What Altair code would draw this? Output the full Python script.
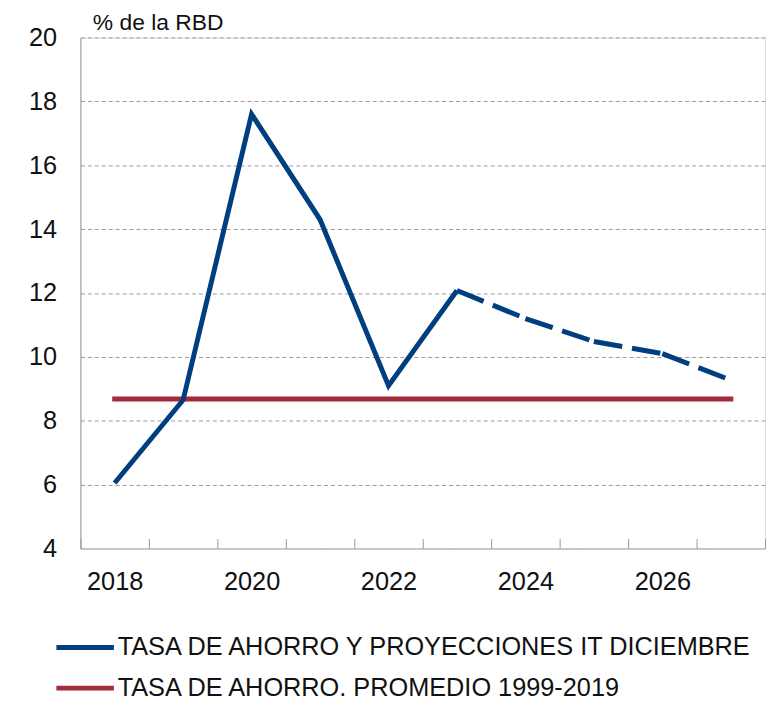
import altair as alt
import pandas as pd

# ---- data ----
years = [2018, 2019, 2020, 2021, 2022, 2023, 2024, 2025, 2026, 2027]
tasa = [6.05, 8.65, 17.6, 14.3, 9.1, 12.08, 11.2, 10.48, 10.1, 9.27]
promedio = [8.68, 8.68, 8.68, 8.68, 8.68, 8.68, 8.68, 8.68, 8.68, 8.68]
last_observed_year = 2023
serie_tasa = "TASA DE AHORRO Y PROYECCIONES IT DICIEMBRE"
serie_prom = "TASA DE AHORRO. PROMEDIO 1999-2019"
y_ticks = [4, 6, 8, 10, 12, 14, 16, 18, 20]
y_title = "% de la RBD"

BLUE = "#003F7F"
RED = "#A42B3B"
GRAY = "#9a9a9a"
FONT = "Liberation Sans"
FS = 25.5

# ---- tables ----
rows_hist = [{"year": y, "value": v, "serie": serie_tasa, "seg": "hist"}
             for y, v in zip(years, tasa) if y <= last_observed_year]
rows_proj = []
i0 = years.index(last_observed_year)
for i in range(i0, len(years) - 1):
    for j in (i, i + 1):
        rows_proj.append({"year": years[j], "value": tasa[j], "serie": serie_tasa, "seg": f"p{i}"})
rows_prom = [{"year": y, "value": v, "serie": serie_prom, "seg": "prom"}
             for y, v in zip(years, promedio)]

df_hist = pd.DataFrame(rows_hist)
df_proj = pd.DataFrame(rows_proj)
df_prom = pd.DataFrame(rows_prom)

color = alt.Color(
    "serie:N",
    scale=alt.Scale(domain=[serie_tasa, serie_prom], range=[BLUE, RED]),
    legend=alt.Legend(
        title=None, orient="none", legendX=-8, legendY=602, direction="vertical",
        symbolType="M-3.05,0H3.05", symbolSize=361, symbolStrokeWidth=5,
        symbolOffset=0, labelOffset=20, symbolDash=[1, 0],
        labelFontSize=FS, labelFont=FONT, labelColor="#111", labelLimit=900,
        rowPadding=14, padding=0,
    ),
)

x = alt.X(
    "year:O",
    scale=alt.Scale(type="band", paddingInner=0, paddingOuter=0),
    axis=alt.Axis(
        title=None, labelAngle=0, labelOverlap=False,
        labelExpr="datum.value % 2 == 0 ? datum.label : ''",
        tickBand="extent", tickSize=10, tickColor=GRAY, tickWidth=1,
        offset=-10, domain=False, labelPadding=21,
        labelFontSize=FS, labelFont=FONT, labelColor="#111",
    ),
)

y = alt.Y(
    "value:Q",
    scale=alt.Scale(domain=[4, 20], nice=False, zero=False),
    axis=alt.Axis(
        title=y_title, titleAngle=0, titleAlign="left", titleBaseline="alphabetic",
        titleX=12, titleY=-8, titleFontSize=23, titleFont=FONT, titleFontWeight="normal",
        titleColor="#111",
        values=y_ticks, ticks=False, grid=True,
        gridDash={"condition": {"test": "datum.value == 4", "value": [1, 0]}, "value": [4, 3]},
        gridColor=GRAY, gridWidth=1, domainColor=GRAY, domainWidth=1,
        labelPadding=24, labelFontSize=FS, labelFont=FONT, labelColor="#111",
    ),
)

prom_layer = alt.Chart(df_prom).mark_line(strokeWidth=5, strokeCap="square").encode(
    x=x, y=y, color=color, detail="seg:N"
)
hist_layer = alt.Chart(df_hist).mark_line(strokeWidth=5, strokeJoin="miter", strokeCap="butt").encode(
    x=x, y=y, color=color, detail="seg:N"
)
proj_layer = alt.Chart(df_proj).mark_line(strokeWidth=5, strokeDash=[29, 10], strokeCap="butt").encode(
    x=x, y=y, color=color, detail="seg:N"
)

chart = alt.layer(prom_layer, hist_layer, proj_layer).properties(
    width=690,
    height=515,
    autosize=alt.AutoSizeParams(type="none"),
    padding={"left": 73, "top": 27, "right": 5, "bottom": 151},
).configure_view(stroke=None).configure(background="white")

chart.save("out.html", embed_options={"renderer": "svg", "actions": False})
